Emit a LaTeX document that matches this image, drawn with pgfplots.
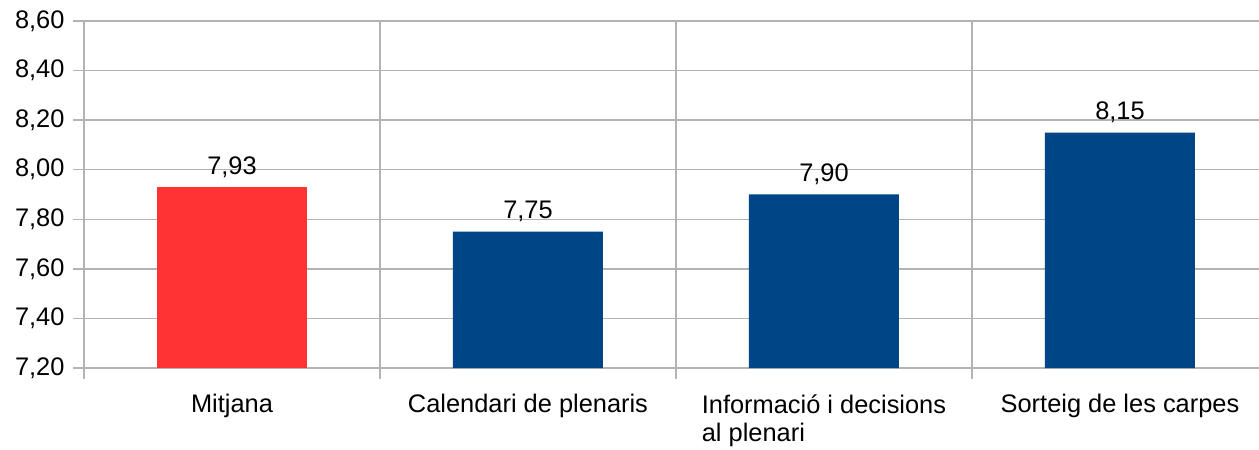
\documentclass[border=0pt]{standalone}
\usepackage{fontspec}
\setmainfont{Liberation Sans}
\usepackage{pgfplots}
\pgfplotsset{compat=1.18}
\definecolor{lored}{HTML}{FF3333}
\definecolor{loblue}{HTML}{004586}
\definecolor{gridgray}{HTML}{B3B3B3}
\begin{document}
\begin{tikzpicture}
\begin{axis}[
  at={(0,0)}, anchor=south west,
  scale only axis, width=1184bp, height=347bp,
  xmin=-0.5, xmax=3.5, ymin=7.2, ymax=8.6,
  ytick={7.2,7.4,...,8.61},
  xtick={-0.5,0.5,1.5,2.5},
  xticklabels={},
  xmajorgrids,
  extra x ticks={0,1,2,3},
  extra x tick labels={Mitjana, Calendari de plenaris, {Informació i decisions\\al plenari}, Sorteig de les carpes},
  extra x tick style={grid=none, major tick length=0pt, xticklabel style={align=left, yshift=-23bp}},
  ymajorgrids,
  grid style={gridgray, line width=1.3bp},
  axis lines*=left,
  axis line style={gridgray, line width=1.3bp},
  tick style={gridgray, line width=1.3bp},
  tick align=outside,
  major tick length=11bp,
  every tick label/.append style={font=\fontsize{25.5}{28}\selectfont, black},
  yticklabel style={xshift=-5bp},
  /pgf/number format/fixed,
  /pgf/number format/fixed zerofill,
  /pgf/number format/precision=2,
  /pgf/number format/use comma,
  /pgf/number format/assume math mode=true,
  ybar, bar width=150bp, bar shift=0pt,
  nodes near coords,
  nodes near coords style={font=\fontsize{25.5}{28}\selectfont, black, yshift=6bp},
  clip=false,
]
\addplot[fill=lored, draw=none] coordinates {(0,7.93)};
\addplot[fill=loblue, draw=none] coordinates {(1,7.75) (2,7.90) (3,8.15)};
\end{axis}
\pgfresetboundingbox
\path[use as bounding box] (-84bp,-82bp) rectangle (1175bp,368bp);
\end{tikzpicture}
\end{document}
